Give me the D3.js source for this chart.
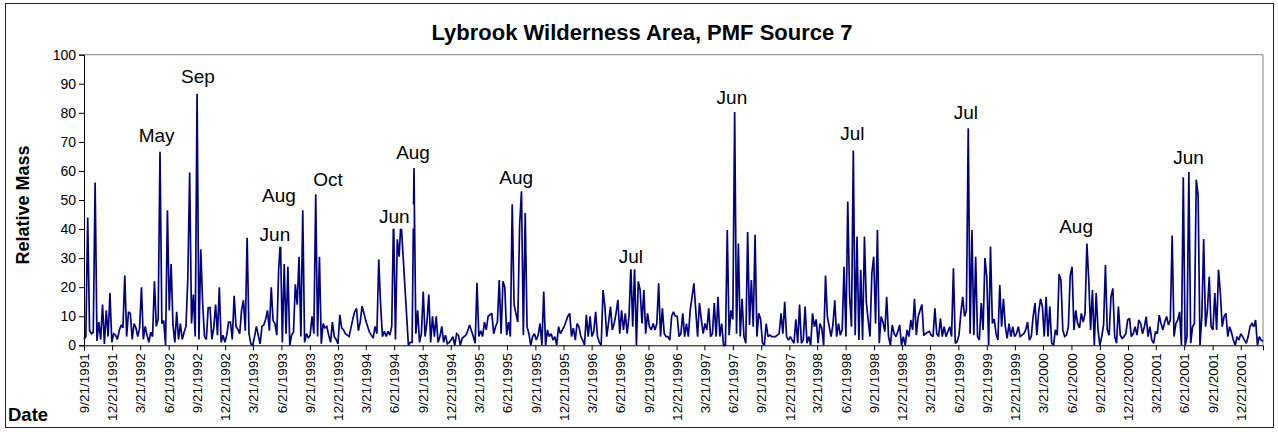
<!DOCTYPE html>
<html>
<head>
<meta charset="utf-8">
<script src="https://cdn.jsdelivr.net/npm/d3@7"></script>
<style>
  html, body { margin: 0; padding: 0; background: #fff; }
  svg { display: block; }
  text { font-family: "Liberation Sans", Arial, sans-serif; }
</style>
</head>
<body>
<svg id="chart" width="1278" height="432"></svg>
<script>
// ---------------- data ----------------
const chartTitle = "Lybrook Wilderness Area, PMF Source 7";
const yTitle = "Relative Mass";
const xTitle = "Date";
const firstSampleDate = "9/21/1991";   // first sample
const sampleStepDays = 6;              // spacing between plotted samples

// Relative mass, consecutive samples (null = missing sample, line bridges it)
const mass1991_93 = [2,3,44,5,4,4.5,56,1.5,8,2,
  14,0.5,12,3,18,1,4,3.5,2,5,
  7,6,24,3,11.5,11,2,7.5,6,3,
  6,20,2,6.5,3.5,1,4.5,3,22,6.5,
  9,66.6,7.5,8.5,0,46.5,12,28,7,1,
  11.5,2,7.5,2,4.5,6.5,23,59.5,7.5,17.5,
  3,86.6,2,33,14.5,3,2,13,13,2,
  6,14,3.5,20,1,3.5,1,3.5,8,8,
  2,17,6.5,5.5,4,12,15.5,5,37,4,
  0.5,0,3,6.5,3.5,0.5,6.5,7,9,12,
  5,20,8.5];
const mass1993_95 = [7.5,3.5,26,36,1,28,4,27,0,3.5,
  4.5,21,14,30.5,3,46.5,1,4,2.5,3.5,
  10,4,52,3,30.5,0.5,7.5,6,6.5,3.5,
  1,8,3,2,0.5,10.5,6,5.3,4,3.5,
  3,6,9,11.5,12.7,5,8,13.5,11,8.5,
  6.5,4.5,3.5,2.5,6.5,4,29.5,14,3,4.8,
  3,4.8,3.5,6.5,45,2,36.5,30.5,43,null,
  null,null,0,1,1,61,4,12,1,4,
  18.5,3,8,17.5,1,10,3,10,1,3,
  6.5,1,3.5,0.5,1,1.8,3,0,4,3.5,
  0,2.4,3,3.5,5,7];
const mass1995_96 = [5,3,0.7,21.5,3,5,3,8,5.3,10,
  10.5,11,4,6.4,8,22.5,4,22,20,3.5,
  8,3,48.5,14,11,8,41.5,53,3.5,45.5,
  6.4,4,0,3,4,1.8,3.5,7.5,0,18.5,
  0,5.3,3,4,1.8,3,0.1,6.4,4,null,
  6.4,null,10,11,3,5.9,1.8,7.5,6.4,3,
  1.8,0.1,10.5,3,10,3,4.8,11.5,3,1,
  0.1,19,13.3,3,8,13.3,5.3,7.5,11,15.6,
  4,12,5.3,11,4,10,27,6.4,26.5,0,
  22,19,7.5,19,4,11,6.4,5.3,7.5,5.3,
  7.5,21.3,3,12.7,4];
const mass1996_98 = [3,3,1.8,10,11.5,10,10,3,4,11,
  3,7.5,3,12,null,21.3,12,3,14.5,8.9,
  4,7.5,5.3,12.7,3,4,14.5,3,16.7,3,
  7.5,0,0,39.7,3.5,12,8.9,80.3,4,35,
  3,16,3,0.7,39,7,22.5,6.4,38,3,
  11,8.9,0.7,0,7.5,3,3.5,3,3,3,
  3.5,4,11,4,15,3,1.8,3,1.8,0.7,
  8.9,0.7,14,0.7,1.8,13.3,0.7,3,0,11,
  6.4,8.9,0.7,7.5,5.9,0,24,9.9,6.4,3,
  7,15.5,3,7.5,3.5,5.3,27,3,49.5,17,
  6.4,67,3.5,37.4,1.8];
const mass1998_00 = [26,1.8,37.4,15,8.7,3,24.8,30.5,7.5,39.7,
  0.7,9.9,8,4.7,16.7,3,0,7,4,3,
  4.7,7,0,3,0,5.3,3,8.7,5.3,16,
  3.5,9.9,12,14,3.4,4,4.5,4.7,3.5,3,
  12.7,4,3,9.3,3,6.4,3,4.7,6.4,3,
  26.5,0.7,1.3,3.5,11,16.7,9.9,12,74.7,4,
  39.7,3.5,30.5,3,1.8,14.5,5.3,30,23.6,0,
  34,7.5,9,4,1.8,20.7,6.4,16,6.4,2.4,
  7.5,3,6.4,3,4,6.4,3,3.5,4,5.3,
  8,1.8,3,9.9,14.5,3.5,11.5,16,13.3,3,
  16.7,3,13.3,0.7,0];
const mass2000_02 = [5.3,3.5,24.5,22.5,5.3,3,3.5,6.4,24,27,
  5.3,12,7.5,6,11,8,11,35,22.5,5.3,
  19,0,18,5.3,0,3,7,27.6,5.3,3.5,
  16.7,19.6,3,0.7,13.3,3.5,2.4,3,4,8.7,
  9.3,3,4,6.4,3.5,8.7,7.5,4,6.4,9.9,
  3,6.4,1.8,0.7,4.7,4,10.4,7.5,5.3,8,
  9.9,7,8.7,37.8,3,7.5,8.7,11.5,0,57.8,
  0,3,59.6,0.7,6.4,7.5,57,51.6,0,9.9,
  36.6,6.4,12,23.6,6.4,5.3,18,5.3,26,18,
  6.4,9.9,11,3,6.4,4.4,1.8,0,3,1.8,
  4,3,1.8,0.7,3,6.4,7.5,6.4,8.7,0,
  3,1.8,1.4];

// Y axis ticks
const yTicks = [0,10,20,30,40,50,60,70,80,90,100];
// X axis tick labels (quarterly)
const xTickLabels = [
  "9/21/1991","12/21/1991","3/21/1992","6/21/1992","9/21/1992","12/21/1992",
  "3/21/1993","6/21/1993","9/21/1993","12/21/1993","3/21/1994","6/21/1994",
  "9/21/1994","12/21/1994","3/21/1995","6/21/1995","9/21/1995","12/21/1995",
  "3/21/1996","6/21/1996","9/21/1996","12/21/1996","3/21/1997","6/21/1997",
  "9/21/1997","12/21/1997","3/21/1998","6/21/1998","9/21/1998","12/21/1998",
  "3/21/1999","6/21/1999","9/21/1999","12/21/1999","3/21/2000","6/21/2000",
  "9/21/2000","12/21/2000","3/21/2001","6/21/2001","9/21/2001","12/21/2001"];

// Month annotations: label text, anchor date, anchor height (axis units)
const noteText  = ["May","Sep","Aug","Jun","Oct","Jun","Aug","Aug","Jul","Jun","Jul","Jul","Aug","Jun"];
const noteDate  = ["5/13/1992","9/24/1992","6/13/1993","5/31/1993","11/19/1993","6/21/1994","8/21/1994",
                   "7/21/1995","7/26/1996","6/18/1997","7/13/1998","7/15/1999","7/6/2000","7/5/2001"];
const noteLevel = [70,90.4,49.4,36,54.8,42.2,64,55.4,28.2,83.2,70.5,77.8,38.8,62.5];

// ---------------- chart ----------------
const parse = d3.utcParse("%m/%d/%Y");
const fmt = d3.utcFormat("%-m/%-d/%Y");
const allMass = [].concat(mass1991_93, mass1993_95, mass1995_96, mass1996_98, mass1998_00, mass2000_02);
const t0 = parse(firstSampleDate);
const series = allMass.map((v, i) => ({date: d3.utcDay.offset(t0, i * sampleStepDays), value: v}))
                      .filter(d => d.value !== null);

const svg = d3.select("#chart");
const W = 1278, H = 432;
const plot = {left: 84, right: 1263, top: 54.7, bottom: 345.3};

svg.append("rect").attr("x", 0).attr("y", 0).attr("width", W).attr("height", H).attr("fill", "#fff");
svg.append("rect").attr("x", 5.5).attr("y", 3.5).attr("width", 1268).attr("height", 424)
   .attr("fill", "none").attr("stroke", "#222").attr("stroke-width", 1);

const x = d3.scaleUtc()
  .domain([t0, series[series.length - 1].date])
  .range([plot.left, plot.right]);
const y = d3.scaleLinear().domain([0, 100]).range([plot.bottom, plot.top]);

// plot area frame (top & right in gray)
svg.append("path")
  .attr("d", `M${plot.left},${plot.top}H${plot.right}V${plot.bottom}`)
  .attr("fill", "none").attr("stroke", "#808080").attr("stroke-width", 1);

// Y axis
const yAxis = d3.axisLeft(y).tickValues(yTicks).tickSize(5).tickPadding(3).tickFormat(d3.format("d"));
const gy = svg.append("g").attr("transform", `translate(${plot.left},0)`).call(yAxis);
gy.select(".domain").attr("stroke", "#000");
gy.selectAll(".tick line").attr("stroke", "#000");
gy.selectAll("text").attr("font-size", 14).attr("fill", "#000")
  .style("font-family", '"Liberation Sans", Arial, sans-serif');

// X axis
const xAxis = d3.axisBottom(x).tickValues(xTickLabels.map(parse)).tickSize(5).tickFormat(fmt);
const gx = svg.append("g").attr("transform", `translate(0,${plot.bottom})`).call(xAxis);
gx.select(".domain").attr("stroke", "#000");
gx.selectAll(".tick line").attr("stroke", "#000");
gx.selectAll("text")
  .attr("font-size", 13.5)
  .attr("fill", "#000")
  .style("font-family", '"Liberation Sans", Arial, sans-serif')
  .attr("text-anchor", "end")
  .attr("dy", null)
  .attr("y", 0)
  .attr("transform", "translate(4.7,8) rotate(-90)");

// Line
const line = d3.line().x(d => x(d.date)).y(d => y(d.value));
svg.append("path").datum(series)
  .attr("d", line)
  .attr("fill", "none")
  .attr("stroke", "#000080")
  .attr("stroke-width", 1.7)
  .attr("stroke-linejoin", "miter")
  .attr("stroke-miterlimit", 2);

// Annotations (with white boxes)
const notes = noteText.map((t, i) => ({text: t, date: parse(noteDate[i]), level: noteLevel[i]}));
const ng = svg.append("g");
notes.forEach(n => {
  const g = ng.append("g");
  const txt = g.append("text")
    .attr("x", x(n.date)).attr("y", y(n.level))
    .attr("text-anchor", "middle")
    .attr("font-size", 19)
    .attr("fill", "#000")
    .text(n.text);
  const bb = txt.node().getBBox();
  g.insert("rect", "text")
    .attr("x", bb.x - 4).attr("y", bb.y - 1)
    .attr("width", bb.width + 8).attr("height", bb.height + 3)
    .attr("fill", "#fff");
});

// Titles
svg.append("text").attr("x", 642).attr("y", 40)
  .attr("text-anchor", "middle").attr("font-size", 22).attr("font-weight", "bold")
  .text(chartTitle);
svg.append("text")
  .attr("transform", `translate(29,205) rotate(-90)`)
  .attr("text-anchor", "middle").attr("font-size", 18).attr("font-weight", "bold")
  .text(yTitle);
svg.append("text").attr("x", 8).attr("y", 421)
  .attr("font-size", 18.5).attr("font-weight", "bold")
  .text(xTitle);
</script>
</body>
</html>
